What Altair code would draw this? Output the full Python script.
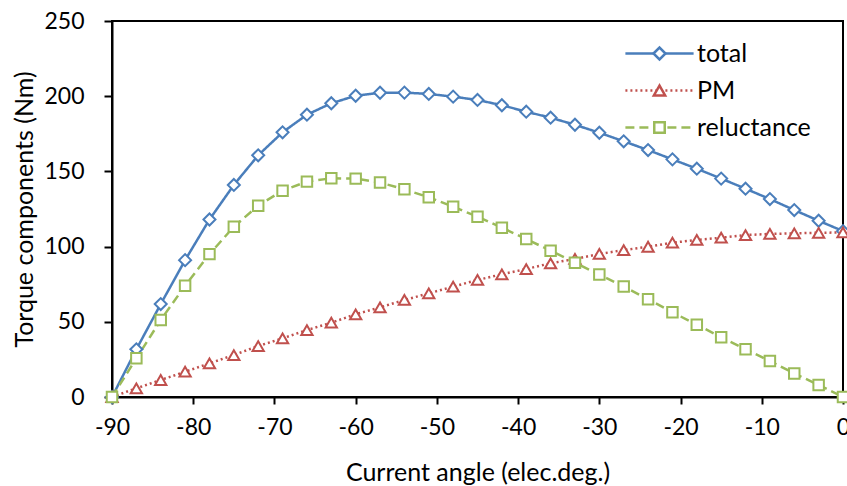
import altair as alt
import pandas as pd

angles = list(range(-90, 1, 3))
series_names = ["total", "PM", "reluctance"]
total = [0, 31.7, 61.8, 91, 118, 141, 160.7, 176, 187.7, 195.3,
         200.3, 202.3, 202.4, 201.5, 199.7, 197.5, 194, 189.7, 185.7, 181,
         175.7, 170, 164.2, 158, 151.8, 145.2, 138.5, 131.6, 124.3, 117.2,
         110.3]
pm = [0, 5.8, 11.3, 16.8, 22.4, 27.9, 33.9, 39, 44.5, 49.4,
      55, 59.6, 64.5, 68.9, 73.4, 77.8, 81.6, 85.1, 88.9, 91.8,
      95.1, 97.7, 99.9, 102.6, 104.4, 105.9, 107.7, 108.4, 108.8, 109.2,
      109.4]
reluctance = [0, 25.7, 51.2, 74, 95, 113.2, 127.2, 137.2, 143.2, 145.4,
              145.2, 142.6, 138.1, 132.8, 126.5, 119.9, 112.6, 105, 97.3, 89.3,
              81.4, 73.4, 65, 56.3, 48.1, 39.7, 31.7, 23.9, 15.7, 8,
              0]
x_ticks = list(range(-90, 1, 10))
y_ticks = list(range(0, 251, 50))

colors = ["#4A7EBB", "#C0504D", "#9BBB59"]
dashes = [[1, 0], [2, 3], [9, 5]]
shapes = ["diamond", "triangle-up", "square"]
sizes = [144, 110, 100]

rows = []
for i, (name, vals) in enumerate(zip(series_names, [total, pm, reluctance])):
    for a, v in zip(angles, vals):
        rows.append({"angle": a, "value": v, "series": name, "order": i})
df = pd.DataFrame(rows)

FONT = "Lato"
LFS = 23
TFS = 25

x_enc = alt.X("angle:Q", scale=alt.Scale(domain=[-90, 0], nice=False),
              axis=alt.Axis(values=x_ticks, title="Current angle (elec.deg.)",
                            titleY=83, titleBaseline="alphabetic",
                            labelPadding=12, labelFlush=False, ticks=True,
                            tickSize=7, tickWidth=2, tickColor="black",
                            labelExpr="'' + datum.value"))
y_enc = alt.Y("value:Q", scale=alt.Scale(domain=[0, 250], nice=False),
              axis=alt.Axis(values=y_ticks, title="Torque components (Nm)",
                            titleX=-80, titleBaseline="alphabetic",
                            labelPadding=20, labelFlush=False, ticks=True,
                            tickSize=8, tickWidth=2, tickColor="black",
                            labelExpr="'' + datum.value"))

leg_common = dict(orient="none", legendX=535, legendY=20, title=None,
                  symbolSize=121, symbolStrokeWidth=2.5, labelFontSize=TFS,
                  labelFont=FONT, labelColor="black", labelOffset=25,
                  rowPadding=11, padding=0)

legA = alt.Legend(symbolType="M-6.2,0L6.2,0", **leg_common)
legB = alt.Legend(symbolFillColor="white", labelOpacity=0, **leg_common)

lines = alt.Chart(df).mark_line(strokeWidth=2.5).encode(
    x=x_enc, y=y_enc,
    color=alt.Color("series:N", scale=alt.Scale(domain=series_names, range=colors), legend=legA),
    strokeDash=alt.StrokeDash("series:N", scale=alt.Scale(domain=series_names, range=dashes), legend=legA),
    order="order:Q",
)

points = alt.Chart(df).mark_point(filled=False, fill="white", fillOpacity=1, strokeWidth=2, opacity=1).encode(
    x=alt.X("angle:Q"), y=alt.Y("value:Q"),
    color=alt.Color("series:N", scale=alt.Scale(domain=series_names, range=colors), legend=legB),
    shape=alt.Shape("series:N", scale=alt.Scale(domain=series_names, range=shapes), legend=legB),
    size=alt.Size("series:N", scale=alt.Scale(domain=series_names, range=sizes), legend=None),
)

chart = alt.layer(lines, points).resolve_scale(
    color="independent", shape="independent", strokeDash="independent", size="independent"
).properties(
    width=731, height=376,
    autosize=alt.AutoSizeParams(type="none"),
    padding={"left": 112, "top": 21, "right": 4, "bottom": 89},
    background="white",
).configure_view(
    stroke="black", strokeWidth=2
).configure_axis(
    grid=False, domainColor="black", domainWidth=2,
    labelFont=FONT, labelFontSize=LFS,
    labelColor="black", titleFont=FONT, titleFontSize=TFS,
    titleFontWeight="normal", titleColor="black",
)

chart.save("out.html", embed_options={"renderer": "svg", "actions": False})
